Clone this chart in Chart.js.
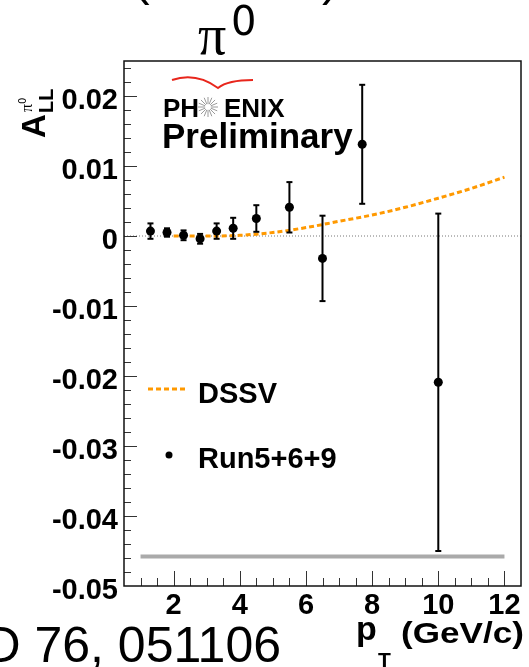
<!DOCTYPE html>
<html>
<head>
<meta charset="utf-8">
<script src="https://cdn.jsdelivr.net/npm/chart.js@4.4.1/dist/chart.umd.min.js"></script>
<style>
    html, body { margin: 0; padding: 0; background: #ffffff; }
    #wrap { width: 529px; height: 667px; }
</style>
</head>
<body>
<div id="wrap"><canvas id="chart_ALL" width="529" height="667"></canvas></div>
<script>
// точки Run5+6+9
let pt_points = [1.3, 1.8, 2.3, 2.8, 3.3, 3.8, 4.5, 5.5, 6.5, 7.7, 10.0];
let all_values = [0.0007, 0.0005, 0.0001, -0.0004, 0.0007, 0.0011, 0.0025, 0.0041, -0.0032, 0.0131, -0.0209];
let all_errors = [0.0011, 0.0006, 0.0007, 0.0007, 0.0011, 0.0015, 0.0019, 0.0036, 0.0061, 0.0085, 0.0241];

// кривая DSSV
let dssv_pt = [2, 3, 4, 5, 6, 7, 8, 9, 10, 11, 12];
let dssv_values = [0, 0, 0.0001, 0.0005, 0.0012, 0.0021, 0.003, 0.0041, 0.0054, 0.0068, 0.0084];

// серая полоса систематики
let band_pt = [1, 12];
let band_values = [-0.0458, -0.0458];

let x_ticks = [2, 4, 6, 8, 10, 12];
let y_ticks = [-0.05, -0.04, -0.03, -0.02, -0.01, 0, 0.01, 0.02];

let bold_font = "'Liberation Sans', Arial, sans-serif";

function toXY(xs, ys) {
    return xs.map(function (x, i) { return {x: x, y: ys[i]}; });
}

function text(ctx, str, x, y, font, align) {
    ctx.font = font;
    ctx.textAlign = align || 'left';
    ctx.textBaseline = 'alphabetic';
    ctx.fillText(str, x, y);
}

function line(ctx, x1, y1, x2, y2) {
    ctx.beginPath();
    ctx.moveTo(x1, y1);
    ctx.lineTo(x2, y2);
    ctx.stroke();
}

// ошибки рисуем прямо перед точками
function drawErrorBars(chart) {
    const ctx = chart.ctx;
    const xs = chart.scales.x, ys = chart.scales.y;
    ctx.save();
    ctx.strokeStyle = '#000000';
    ctx.lineWidth = 2;
    for (let i = 0; i < pt_points.length; i++) {
        let px = xs.getPixelForValue(pt_points[i]);
        let top = ys.getPixelForValue(all_values[i] + all_errors[i]);
        let bot = ys.getPixelForValue(all_values[i] - all_errors[i]);
        line(ctx, px, top, px, bot);
        line(ctx, px - 3, top, px + 3, top);
        line(ctx, px - 3, bot, px + 3, bot);
    }
    ctx.restore();
}

function drawFrameAndTicks(chart) {
    const ctx = chart.ctx, a = chart.chartArea;
    const xs = chart.scales.x, ys = chart.scales.y;
    ctx.save();
    ctx.strokeStyle = '#333333';
    ctx.lineWidth = 1;
    for (let i = 2; i <= 24; i++) {
        let v = i * 0.5;
        let px = Math.round(xs.getPixelForValue(v)) + 0.5;
        let len = (i % 4 === 0) ? 15 : 8;
        line(ctx, px, a.bottom, px, a.bottom - len);
    }
    for (let i = -24; i <= 12; i++) {
        let py = Math.round(ys.getPixelForValue(i * 0.002)) + 0.5;
        let len = (i % 5 === 0) ? 13 : 7;
        line(ctx, a.left, py, a.left + len, py);
    }
    ctx.strokeStyle = '#111111';
    ctx.lineWidth = 1.5;
    ctx.strokeRect(a.left, a.top, a.right - a.left, a.bottom - a.top);
    ctx.restore();
}

function drawLabels(chart) {
    const ctx = chart.ctx;
    ctx.save();
    ctx.fillStyle = '#000000';

    // заголовок pi0
    text(ctx, 'π', 198, 54, "56px 'Liberation Serif', serif");
    text(ctx, '0', 231, 35, "40px 'DejaVu Sans', sans-serif");

    // обрезанная строка сверху
    text(ctx, '(', 133, -5, "50px " + bold_font);
    text(ctx, ')', 322, -5, "50px " + bold_font);

    // PHENIX Preliminary
    ctx.strokeStyle = '#e8261c';
    ctx.lineWidth = 2;
    ctx.beginPath();
    ctx.moveTo(172, 80);
    ctx.quadraticCurveTo(196, 72, 218, 88);
    ctx.quadraticCurveTo(228, 80, 253, 80);
    ctx.stroke();
    text(ctx, 'PH', 163, 117, "bold 26px " + bold_font);
    text(ctx, 'ENIX', 224, 117, "bold 26px " + bold_font);
    ctx.strokeStyle = '#9a9a9a';
    ctx.lineWidth = 1;
    for (let k = 0; k < 16; k++) {
        let ang = k * Math.PI / 8;
        line(ctx, 208 + 3 * Math.cos(ang), 107 + 3 * Math.sin(ang), 208 + 10 * Math.cos(ang), 107 + 10 * Math.sin(ang));
    }
    text(ctx, 'Preliminary', 162, 148, "bold 35px " + bold_font);

    // легенда
    ctx.strokeStyle = '#ff9900';
    ctx.lineWidth = 3;
    ctx.setLineDash([5, 3]);
    line(ctx, 148, 389, 185, 389);
    ctx.setLineDash([]);
    text(ctx, 'DSSV', 198, 403, "bold 29px " + bold_font);
    ctx.beginPath();
    ctx.arc(169, 455, 3.5, 0, Math.PI * 2);
    ctx.fill();
    text(ctx, 'Run5+6+9', 198, 468, "bold 29px " + bold_font);

    // подпись оси X
    text(ctx, 'p', 356, 640, "bold 34px " + bold_font);
    text(ctx, 'T', 378, 667, "bold 21px " + bold_font);
    ctx.save();
    ctx.translate(401, 643);
    ctx.scale(1.17, 1);
    text(ctx, '(GeV/c)', 0, 0, "bold 30px " + bold_font);
    ctx.restore();

    // подпись оси Y
    ctx.save();
    ctx.translate(45, 138);
    ctx.rotate(-Math.PI / 2);
    text(ctx, 'A', 0, 0, "bold 33px " + bold_font);
    text(ctx, 'LL', 25, 8, "bold 20px " + bold_font);
    text(ctx, 'π', 26, -13, "16px 'Liberation Serif', serif");
    text(ctx, '0', 34, -19, "10px 'DejaVu Sans', sans-serif");
    ctx.restore();

    // ссылка снизу
    text(ctx, 'D 76, 051106', 281, 662, "50px " + bold_font, 'right');
    ctx.restore();
}

const sketchPlugin = {
    id: 'sketch',
    beforeDatasetDraw(chart, args) {
        if (args.index === 0) drawErrorBars(chart);
    },
    afterDraw(chart) {
        drawFrameAndTicks(chart);
        drawLabels(chart);
    }
};

function chartALL() {
    const ctx = document.getElementById('chart_ALL').getContext('2d');
    new Chart(ctx, {
        type: 'scatter',
        data: {
            datasets: [{
                label: 'Run5+6+9',
                data: toXY(pt_points, all_values),
                pointRadius: 4.5,
                pointBackgroundColor: '#000000',
                pointBorderWidth: 0,
                showLine: false
            }, {
                label: 'DSSV',
                data: toXY(dssv_pt, dssv_values),
                showLine: true,
                borderColor: '#ff9900',
                borderWidth: 3,
                borderDash: [5, 3],
                pointRadius: 0,
                cubicInterpolationMode: 'monotone'
            }, {
                label: 'zero',
                data: toXY([0.5, 12.5], [0, 0]),
                showLine: true,
                borderColor: '#777777',
                borderWidth: 1,
                borderDash: [1, 2],
                pointRadius: 0
            }, {
                label: 'band',
                data: toXY(band_pt, band_values),
                showLine: true,
                borderColor: '#aaaaaa',
                borderWidth: 4,
                pointRadius: 0
            }]
        },
        options: {
            responsive: false,
            animation: false,
            layout: {padding: {top: 61, right: 8, left: 0, bottom: 0}},
            plugins: {
                legend: {display: false},
                tooltip: {enabled: false}
            },
            scales: {
                x: {
                    type: 'linear',
                    min: 0.5,
                    max: 12.5,
                    grid: {display: false, drawTicks: false},
                    border: {display: false},
                    afterBuildTicks: function (scale) {
                        scale.ticks = x_ticks.map(function (v) { return {value: v}; });
                    },
                    afterFit: function (scale) { scale.height = 81; },
                    ticks: {
                        padding: 3,
                        color: '#000000',
                        maxRotation: 0,
                        font: {family: bold_font, size: 29, weight: 'bold'}
                    }
                },
                y: {
                    type: 'linear',
                    min: -0.05,
                    max: 0.025,
                    grid: {display: false, drawTicks: false},
                    border: {display: false},
                    afterBuildTicks: function (scale) {
                        scale.ticks = y_ticks.map(function (v) { return {value: v}; });
                    },
                    afterFit: function (scale) { scale.width = 124; },
                    ticks: {
                        padding: 6,
                        labelOffset: 5,
                        color: '#000000',
                        font: {family: bold_font, size: 29, weight: 'bold'},
                        callback: function (value) {
                            if (Math.abs(value) < 1e-9) return '0';
                            return value.toFixed(2);
                        }
                    }
                }
            }
        },
        plugins: [sketchPlugin]
    });
}

chartALL();
</script>
</body>
</html>
